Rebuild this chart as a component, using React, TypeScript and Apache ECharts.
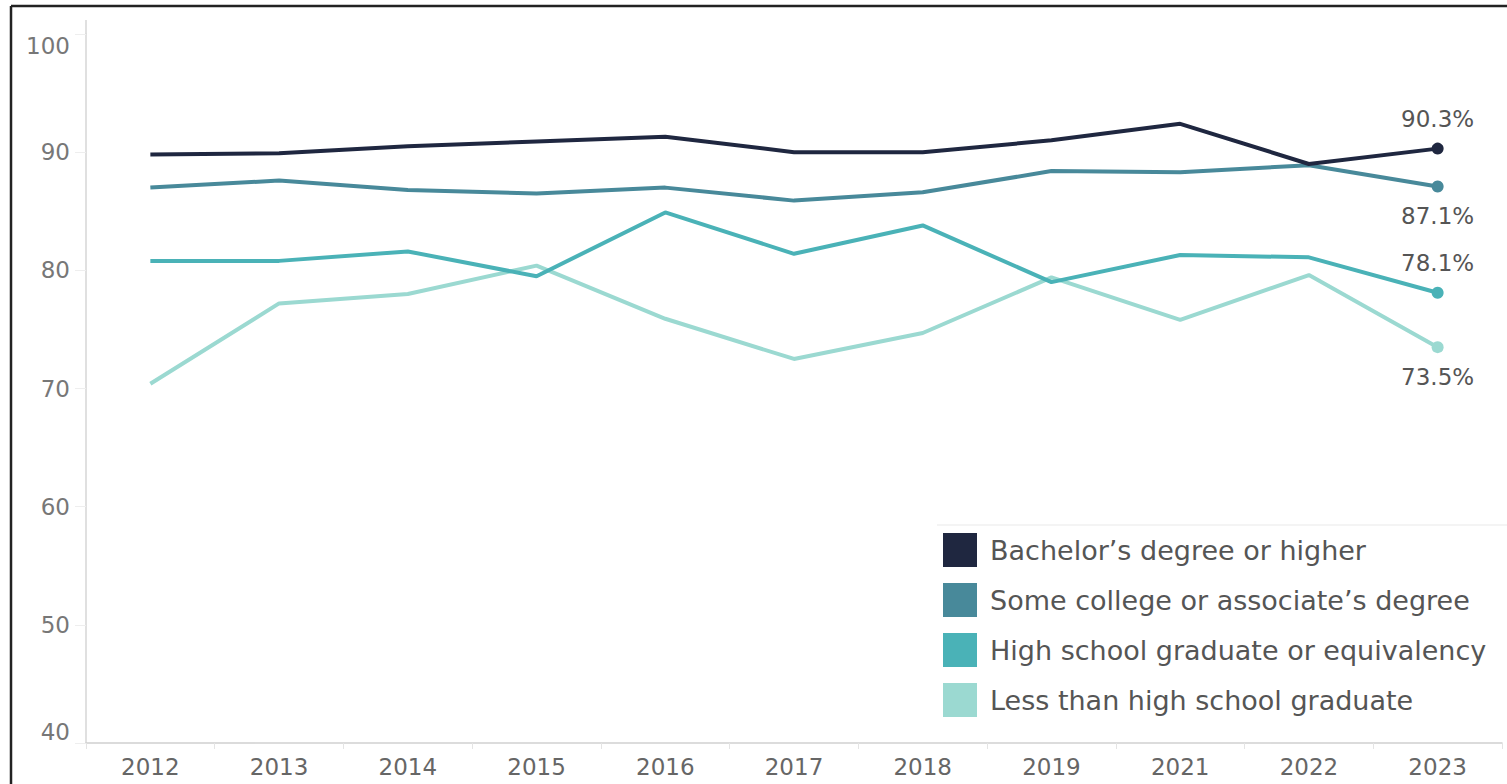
import React, { useEffect, useRef } from "react";
import * as echarts from "echarts";

const years = ["2012", "2013", "2014", "2015", "2016", "2017", "2018", "2019", "2021", "2022", "2023"];
const bachelor = [89.8, 89.9, 90.5, 90.9, 91.3, 90.0, 90.0, 91.0, 92.4, 89.0, 90.3];
const someCollege = [87.0, 87.6, 86.8, 86.5, 87.0, 85.9, 86.6, 88.4, 88.3, 88.9, 87.1];
const highSchool = [80.8, 80.8, 81.6, 79.5, 84.9, 81.4, 83.8, 79.0, 81.3, 81.1, 78.1];
const lessThanHS = [70.4, 77.2, 78.0, 80.4, 75.9, 72.5, 74.7, 79.4, 75.8, 79.6, 73.5];
const yTicks = { min: 40, max: 100, interval: 10 };

const names = [
  "Bachelor\u2019s degree or higher",
  "Some college or associate\u2019s degree",
  "High school graduate or equivalency",
  "Less than high school graduate",
];
const colors = ["#1f2740", "#48899a", "#4ab2b7", "#9bd9d1"];
const labelPos = ["top", "bottom", "top", "bottom"];

const FONT = "'DejaVu Sans', Lato, sans-serif";

export default function App() {
  const ref = useRef<HTMLDivElement>(null);
  useEffect(() => {
    if (!ref.current) return;
    const chart = echarts.init(ref.current, undefined, { renderer: "svg" });
    const seriesData = [bachelor, someCollege, highSchool, lessThanHS];
    const series = seriesData
      .map((arr, i) => ({
        name: names[i],
        type: "line",
        symbol: "none",
        color: colors[i],
        z: 10 - i,
        lineStyle: { width: 4, color: colors[i] },
        itemStyle: { color: colors[i] },
        data: arr.map((v, j) =>
          j === arr.length - 1
            ? {
                value: v,
                symbol: "circle",
                symbolSize: 12,
                label: {
                  show: true,
                  position: labelPos[i],
                  distance: 12,
                  formatter: (p: any) => p.value.toFixed(1) + "%",
                  fontFamily: FONT,
                  fontSize: 23,
                  color: "#555",
                },
              }
            : v
        ),
      }))
      .reverse();

    chart.setOption({
      animation: false,
      backgroundColor: "#fff",
      textStyle: { fontFamily: FONT },
      grid: { left: 86, right: 5, top: 34, bottom: 41, containLabel: false },
      xAxis: {
        type: "category",
        data: years,
        boundaryGap: true,
        axisLine: { show: true, lineStyle: { color: "#d0d0d0", width: 1.5 } },
        axisTick: { show: true, interval: 0, length: 6, lineStyle: { color: "#e4e4e4" } },
        axisLabel: { fontFamily: FONT, fontSize: 23, color: "#666", margin: 12 },
        splitLine: { show: false },
      },
      yAxis: {
        type: "value",
        min: yTicks.min,
        max: yTicks.max,
        interval: yTicks.interval,
        axisLine: { show: true, lineStyle: { color: "#d6d6d6", width: 1.5 } },
        axisTick: { show: true, length: 11, lineStyle: { color: "#eeeeee" } },
        axisLabel: {
          fontFamily: FONT,
          fontSize: 23,
          color: "#777",
          margin: 16,
          verticalAlignMinLabel: "bottom",
          verticalAlignMaxLabel: "top",
        },
        splitLine: { show: false },
      },
      legend: {
        data: names,
        orient: "vertical",
        left: 943,
        top: 533,
        icon: "rect",
        itemWidth: 34,
        itemHeight: 34,
        itemGap: 16,
        padding: 0,
        selectedMode: false,
        textStyle: { fontFamily: FONT, fontSize: 27, color: "#555", padding: [0, 0, 0, 8] },
      },
      graphic: [
        { type: "line", shape: { x1: 11, y1: 6, x2: 1507, y2: 6 }, style: { stroke: "#222", lineWidth: 2.5 } },
        { type: "line", shape: { x1: 11, y1: 6, x2: 11, y2: 784 }, style: { stroke: "#222", lineWidth: 2.5 } },
        { type: "line", shape: { x1: 86, y1: 20, x2: 86, y2: 34 }, style: { stroke: "#d6d6d6", lineWidth: 1.5 } },
        { type: "line", shape: { x1: 937, y1: 525, x2: 1507, y2: 525 }, style: { stroke: "#f0f0f0", lineWidth: 1.5 } },
      ],
      series,
    });
    return () => chart.dispose();
  }, []);
  return (
    <div
      ref={ref}
      style={{ position: "fixed", left: 0, top: 0, width: 1507, height: 784, background: "#fff" }}
    />
  );
}
